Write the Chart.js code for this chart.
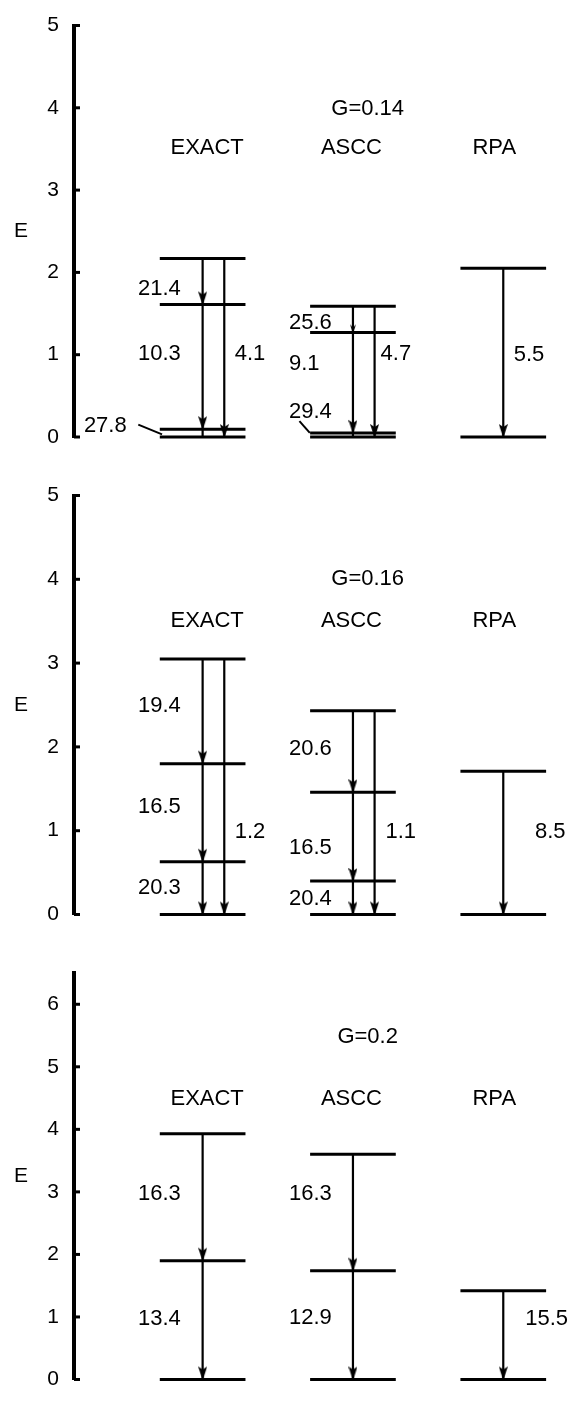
<!DOCTYPE html>
<html>
<head>
<meta charset="utf-8">
<script src="https://cdn.jsdelivr.net/npm/chart.js@4/dist/chart.umd.min.js"></script>
<style>
  body { margin: 0; background: #fff; }
  .panel { position: absolute; left: 0; width: 577px; }
</style>
</head>
<body>
<div class="panel" style="top:0;height:470px"><canvas id="panel0"></canvas></div>
<div class="panel" style="top:470px;height:470px"><canvas id="panel1"></canvas></div>
<div class="panel" style="top:940px;height:465px"><canvas id="panel2"></canvas></div>
<script>
var methods = ['EXACT', 'ASCC', 'RPA'];
var couplings = ['G=0.14', 'G=0.16', 'G=0.2'];
var axis_title = 'E';
var e_max = [5, 5, 6.5];

// energy levels, one list per method
var levels_014 = [[0, 0.095, 1.61, 2.17], [0, 0.05, 1.27, 1.59], [0, 2.05]];
var levels_016 = [[0, 0.63, 1.80, 3.05], [0, 0.40, 1.46, 2.43], [0, 1.71]];
var levels_020 = [[0, 1.90, 3.93], [0, 1.74, 3.60], [0, 1.42]];

// transitions: [method, from E, to E, lane, B(E2)]
var trans_014 = [
  [0, 2.17, 1.61, 0, '21.4'], [0, 1.61, 0.095, 0, '10.3'], [0, 0.095, 0, 0, '27.8'], [0, 2.17, 0, 1, '4.1'],
  [1, 1.59, 1.27, 0, '25.6'], [1, 1.27, 0.05, 0, '9.1'], [1, 0.05, 0, 0, '29.4'], [1, 1.59, 0, 1, '4.7'],
  [2, 2.05, 0, 0, '5.5']
];
var trans_016 = [
  [0, 3.05, 1.80, 0, '19.4'], [0, 1.80, 0.63, 0, '16.5'], [0, 0.63, 0, 0, '20.3'], [0, 3.05, 0, 1, '1.2'],
  [1, 2.43, 1.46, 0, '20.6'], [1, 1.46, 0.40, 0, '16.5'], [1, 0.40, 0, 0, '20.4'], [1, 2.43, 0, 1, '1.1'],
  [2, 1.71, 0, 0, '8.5']
];
var trans_020 = [
  [0, 3.93, 1.90, 0, '16.3'], [0, 1.90, 0, 0, '13.4'],
  [1, 3.60, 1.74, 0, '16.3'], [1, 1.74, 0, 0, '12.9'],
  [2, 1.42, 0, 0, '15.5']
];

// where each B(E2) label sits (x, E), same order as the transitions
var spots_014 = [[0.570, 1.80], [0.570, 1.01], [0.210, 0.14], [1.213, 1.01],
                 [1.574, 1.39], [1.574, 0.89], [1.574, 0.30], [2.184, 1.01], [3.069, 1.00]];
var spots_016 = [[0.570, 2.49], [0.570, 1.28], [0.570, 0.32], [1.213, 0.99],
                 [1.574, 1.98], [1.574, 0.80], [1.574, 0.18], [2.216, 0.99], [3.211, 0.99]];
var spots_020 = [[0.570, 2.96], [0.570, 0.97], [1.574, 2.96], [1.574, 0.99], [3.146, 0.97]];
var leaders_014 = [[0.572, 0.150, 0.730, 0.032], [1.644, 0.193, 1.713, 0.051]];

var method_x = [1.03, 1.99, 2.94];
var g_x = 2.098;
var head_e = [3.51, 3.50, 4.49];
var g_e = [3.99, 4.00, 5.48];

var HALF = 0.285, LANE = 0.144;
var FONT = '"Liberation Sans", Arial, sans-serif';

function makeHead(w, h) {
  var c = document.createElement('canvas');
  c.width = w; c.height = 2 * h + 2;
  var g = c.getContext('2d');
  g.fillStyle = '#000';
  g.beginPath();
  g.moveTo(0, 2); g.lineTo(w / 2, 5); g.lineTo(w, 2); g.lineTo(w / 2, h + 2); g.closePath();
  g.fill();
  return c;
}
var bigHead = makeHead(9, 14);
var smallHead = makeHead(6, 9);

var panels = [
  { levels: levels_014, trans: trans_014, spots: spots_014, leaders: leaders_014, pad: [15, 33] },
  { levels: levels_016, trans: trans_016, spots: spots_016, leaders: [], pad: [24, 25] },
  { levels: levels_020, trans: trans_020, spots: spots_020, leaders: [], pad: [33, 11] }
];

function buildDatasets(p) {
  var ds = [];
  p.levels.forEach(function (lv, m) {
    lv.forEach(function (e) {
      ds.push({ data: [{ x: m + 1 - HALF, y: e }, { x: m + 1 + HALF, y: e }],
        borderColor: '#000', borderWidth: 3, pointRadius: 0, clip: false });
    });
  });
  p.trans.forEach(function (t) {
    var x = t[0] + 1 + t[3] * LANE;
    var d = t[1] - t[2];
    ds.push({ data: [{ x: x, y: t[1] }, { x: x, y: t[2] }],
      borderColor: '#000', borderWidth: 2.2,
      pointRadius: [0, d < 0.2 ? 0 : 5],
      pointStyle: d < 0.35 ? smallHead : bigHead,
      clip: false });
  });
  return ds;
}

panels.forEach(function (p, i) {
  var annot = {
    id: 'annot' + i,
    afterDraw: function (chart) {
      var xs = chart.scales.x, ys = chart.scales.y, a = chart.chartArea, ctx = chart.ctx;
      ctx.save();
      ctx.strokeStyle = '#000';
      ctx.fillStyle = '#000';
      ctx.lineWidth = 3;
      ys.ticks.forEach(function (t) {
        var py = ys.getPixelForValue(t.value);
        ctx.beginPath(); ctx.moveTo(a.left, py); ctx.lineTo(a.left + 6, py); ctx.stroke();
      });
      ctx.textBaseline = 'middle';
      ctx.textAlign = 'center';
      ctx.font = '21px ' + FONT;
      ctx.fillText(axis_title, 21, (a.top + a.bottom) / 2);
      ctx.font = '22px ' + FONT;
      ctx.fillText(couplings[i], xs.getPixelForValue(g_x), ys.getPixelForValue(g_e[i]));
      methods.forEach(function (m, k) {
        ctx.fillText(m, xs.getPixelForValue(method_x[k]), ys.getPixelForValue(head_e[i]));
      });
      ctx.textAlign = 'left';
      p.trans.forEach(function (t, k) {
        var s = p.spots[k];
        ctx.fillText(t[4], xs.getPixelForValue(s[0]), ys.getPixelForValue(s[1]));
      });
      ctx.lineWidth = 2;
      p.leaders.forEach(function (l) {
        ctx.beginPath();
        ctx.moveTo(xs.getPixelForValue(l[0]), ys.getPixelForValue(l[1]));
        ctx.lineTo(xs.getPixelForValue(l[2]), ys.getPixelForValue(l[3]));
        ctx.stroke();
      });
      ctx.restore();
    }
  };

  new Chart(document.getElementById('panel' + i), {
    type: 'line',
    data: { datasets: buildDatasets(p) },
    options: {
      responsive: true,
      maintainAspectRatio: false,
      animation: false,
      events: [],
      layout: { padding: { top: p.pad[0], bottom: p.pad[1], left: 0, right: 0 } },
      plugins: { legend: { display: false }, tooltip: { enabled: false } },
      scales: {
        x: { type: 'linear', display: false, min: 0.1443, max: 3.4426 },
        y: {
          type: 'linear',
          min: 0,
          max: e_max[i],
          afterFit: function (s) { s.width = 74; },
          afterBuildTicks: function (s) {
            s.ticks = s.ticks.filter(function (t) { return Number.isInteger(t.value); });
          },
          border: { display: true, width: 4, color: '#000' },
          grid: { display: false, drawTicks: false },
          ticks: { stepSize: 1, padding: 15, color: '#000', font: { family: FONT, size: 21, lineHeight: 1 } }
        }
      }
    },
    plugins: [annot]
  });
});
</script>
</body>
</html>
